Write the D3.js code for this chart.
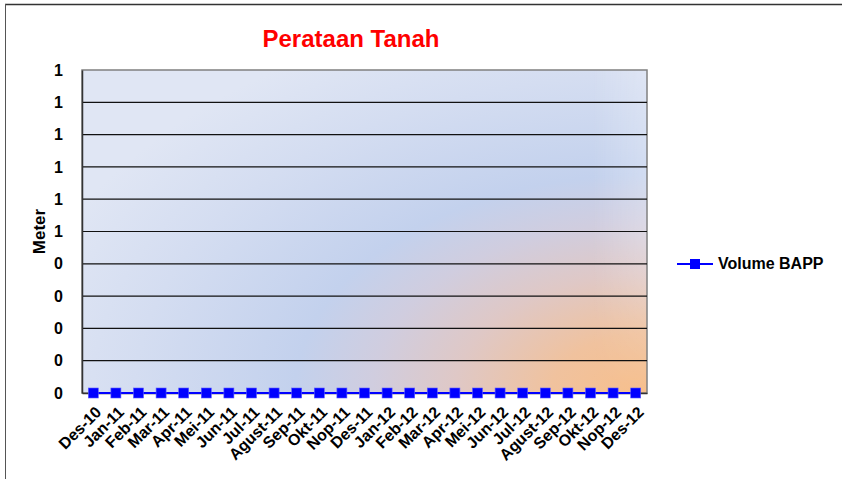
<!DOCTYPE html>
<html>
<head>
<meta charset="utf-8">
<script src="https://cdn.jsdelivr.net/npm/d3@7"></script>
<style>
  body { margin: 0; background: #fff; }
  text { font-family: "Liberation Sans", Arial, sans-serif; font-weight: bold; }
</style>
</head>
<body>
<div id="chart"></div>
<script>
const FRAME_WIDTH = 842;
const FRAME_HEIGHT = 479;
const MARGINS = {left: 82, right: 195, top: 70, bottom: 86};
const VIS_WIDTH = FRAME_WIDTH - MARGINS.left - MARGINS.right;
const VIS_HEIGHT = FRAME_HEIGHT - MARGINS.top - MARGINS.bottom;

// data
const months = ["Des-10", "Jan-11", "Feb-11", "Mar-11", "Apr-11", "Mei-11", "Jun-11", "Jul-11",
  "Agust-11", "Sep-11", "Okt-11", "Nop-11", "Des-11", "Jan-12", "Feb-12", "Mar-12", "Apr-12",
  "Mei-12", "Jun-12", "Jul-12", "Agust-12", "Sep-12", "Okt-12", "Nop-12", "Des-12"];
const volumeBAPP = [0, 0, 0, 0, 0, 0, 0, 0, 0, 0, 0, 0, 0, 0, 0, 0, 0, 0, 0, 0, 0, 0, 0, 0, 0];
const yTicks = [0, 0.1, 0.2, 0.3, 0.4, 0.5, 0.6, 0.7, 0.8, 0.9, 1.0];

const svg = d3.select("#chart")
  .append("svg")
    .attr("width", FRAME_WIDTH)
    .attr("height", FRAME_HEIGHT);

// outer chart border (top + left visible)
svg.append("line").attr("x1", 5).attr("x2", FRAME_WIDTH).attr("y1", 4.5).attr("y2", 4.5)
  .attr("stroke", "#333").attr("stroke-width", 1.5);
svg.append("line").attr("x1", 5.5).attr("x2", 5.5).attr("y1", 4).attr("y2", FRAME_HEIGHT)
  .attr("stroke", "#555").attr("stroke-width", 1);

// background gradient of the plot area (elliptical, from bottom-right corner)
const defs = svg.append("defs");
const grad = defs.append("radialGradient")
  .attr("id", "plotBg")
  .attr("gradientUnits", "userSpaceOnUse")
  .attr("cx", VIS_WIDTH).attr("cy", VIS_HEIGHT)
  .attr("r", 640)
  .attr("gradientTransform", "translate(" + VIS_WIDTH + "," + VIS_HEIGHT + ") scale(1,0.62) translate(" + (-VIS_WIDTH) + "," + (-VIS_HEIGHT) + ")");
[[0, "#f7bf8c"], [0.15, "#f0c29e"], [0.3, "#dfc8c6"], [0.43, "#d0cddf"], [0.55, "#c3d1ed"], [0.8, "#d4ddf1"], [1, "#e0e6f4"]]
  .forEach(s => grad.append("stop").attr("offset", s[0]).attr("stop-color", s[1]));

// light sheen along the right edge
const sheen = defs.append("linearGradient").attr("id", "sheen")
  .attr("x1", 0).attr("x2", 1).attr("y1", 0).attr("y2", 0);
sheen.append("stop").attr("offset", 0.9).attr("stop-color", "#fff").attr("stop-opacity", 0);
sheen.append("stop").attr("offset", 1).attr("stop-color", "#fff").attr("stop-opacity", 0.25);
const sheenV = defs.append("linearGradient").attr("id", "sheenMaskGrad")
  .attr("x1", 0).attr("x2", 0).attr("y1", 0).attr("y2", 1);
sheenV.append("stop").attr("offset", 0.5).attr("stop-color", "#fff");
sheenV.append("stop").attr("offset", 1).attr("stop-color", "#000");
const mask = defs.append("mask").attr("id", "sheenMask");
mask.append("rect").attr("width", VIS_WIDTH).attr("height", VIS_HEIGHT).attr("fill", "url(#sheenMaskGrad)");

const g = svg.append("g").attr("transform", "translate(" + MARGINS.left + "," + MARGINS.top + ")");

g.append("rect")
  .attr("width", VIS_WIDTH).attr("height", VIS_HEIGHT)
  .attr("fill", "url(#plotBg)");
g.append("rect")
  .attr("width", VIS_WIDTH).attr("height", VIS_HEIGHT)
  .attr("fill", "url(#sheen)")
  .attr("mask", "url(#sheenMask)");
g.append("rect")
  .attr("width", VIS_WIDTH).attr("height", VIS_HEIGHT)
  .attr("fill", "none")
  .attr("stroke", "#808080").attr("stroke-width", 1.5);

const x = d3.scaleBand().domain(months).range([0, VIS_WIDTH]);
const y = d3.scaleLinear().domain([0, 1]).range([VIS_HEIGHT, 0]);

// gridlines
g.selectAll(".grid")
  .data(yTicks.slice(1, -1))
  .enter()
  .append("line")
    .attr("x1", 0).attr("x2", VIS_WIDTH)
    .attr("y1", d => y(d)).attr("y2", d => y(d))
    .attr("stroke", "#111").attr("stroke-width", 1.2);

// y axis
const yAxis = g.append("g")
  .call(d3.axisLeft(y).tickValues(yTicks).tickFormat(d => Math.round(d)).tickSize(0).tickPadding(19));
yAxis.select(".domain").attr("stroke", "#333").attr("stroke-width", 1.5);
yAxis.selectAll("text").attr("font-size", "16px").attr("fill", "#000");

// x axis
const xAxis = g.append("g")
  .attr("transform", "translate(0," + VIS_HEIGHT + ")")
  .call(d3.axisBottom(x).tickSize(0));
xAxis.select(".domain").attr("stroke", "#333").attr("stroke-width", 1.5);
xAxis.selectAll("text")
  .attr("font-size", "16px")
  .attr("fill", "#000")
  .attr("text-anchor", "end")
  .attr("dy", null)
  .attr("dominant-baseline", "middle")
  .attr("transform", "translate(4,15) rotate(-45)");

// y title
svg.append("text")
  .attr("transform", "translate(41," + (MARGINS.top + VIS_HEIGHT / 2) + ") rotate(-90)")
  .attr("text-anchor", "middle")
  .attr("dominant-baseline", "middle")
  .attr("font-size", "17px")
  .text("Meter");

// chart title
svg.append("text")
  .attr("x", 351).attr("y", 47)
  .attr("text-anchor", "middle")
  .attr("font-size", "24px")
  .attr("fill", "#ff0000")
  .text("Perataan Tanah");

// series
const line = d3.line()
  .x((d, i) => x(months[i]) + x.bandwidth() / 2)
  .y(d => y(d));

g.append("path")
  .datum(volumeBAPP)
  .attr("d", line)
  .attr("fill", "none")
  .attr("stroke", "#0000ff")
  .attr("stroke-width", 2);

g.selectAll(".pt")
  .data(volumeBAPP)
  .enter()
  .append("rect")
    .attr("x", (d, i) => x(months[i]) + x.bandwidth() / 2 - 5)
    .attr("y", d => y(d) - 5)
    .attr("width", 10).attr("height", 10)
    .attr("fill", "#0000ff")
    .attr("stroke", "#5a5aff").attr("stroke-width", 0.6);

// legend
const lg = svg.append("g").attr("transform", "translate(677,264)");
lg.append("line").attr("x1", 0).attr("x2", 36).attr("stroke", "#0000ff").attr("stroke-width", 2);
lg.append("rect").attr("x", 13).attr("y", -5).attr("width", 10).attr("height", 10).attr("fill", "#0000ff");
lg.append("text").attr("x", 41).attr("y", 1).attr("dominant-baseline", "middle")
  .attr("font-size", "16px").text("Volume BAPP");
</script>
</body>
</html>
